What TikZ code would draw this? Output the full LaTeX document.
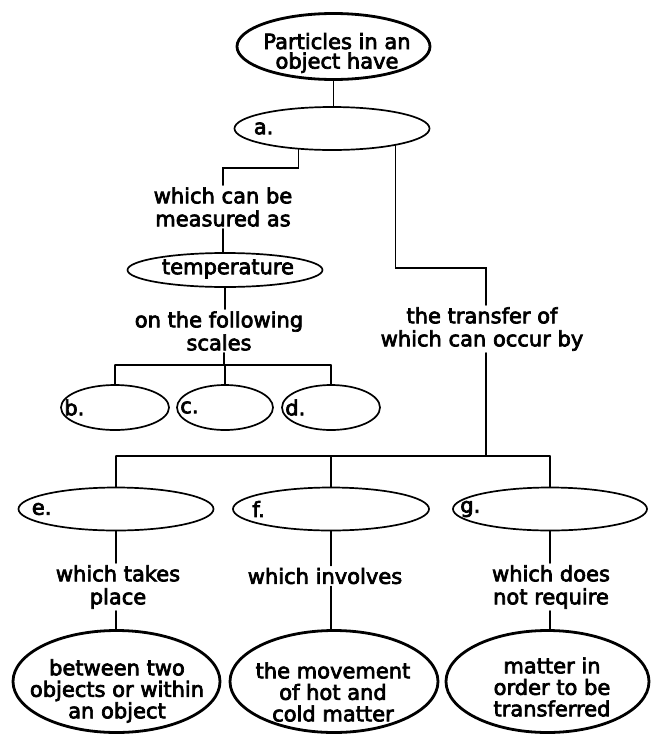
\documentclass[tikz,border=0pt]{standalone}
\usepackage{fontspec}
\setmainfont{DejaVu Sans}
\usetikzlibrary{shapes.geometric}
\newcommand\heavytext{\special{pdf:literal direct 2 Tr 0.7 w}}
\begin{document}
\begin{tikzpicture}[x=1pt,y=-1pt,
  every node/.style={font=\heavytext\fontsize{21}{23}\selectfont},
  conn/.style={line width=1.2pt, line cap=round},
  oval/.style={ellipse, draw, line width=1.7pt, inner sep=0pt},
  boldoval/.style={ellipse, draw, line width=2.8pt, inner sep=0pt},
  txt/.style={align=center, inner sep=2pt},
  toptxt/.style={align=center, inner sep=0pt, font=\heavytext\fontsize{21}{19.5}\selectfont},
  bottxt/.style={align=center, inner sep=0pt, font=\heavytext\fontsize{21}{21.5}\selectfont},
  lbl/.style={anchor=west, inner sep=0pt}]
\useasboundingbox (0,0) rectangle (651,734);

% top
\node[boldoval, minimum width=193pt, minimum height=66pt] (top) at (333.5,46.5) {};
\node[toptxt] (topt) at (337,53) {Particles in an\\object have};

% a
\node[oval, minimum width=195pt, minimum height=43pt] (a) at (332,128.5) {};
\node[lbl] (al) at ([xshift=20pt]a.west) {a.};

% left branch
\node[txt] (m1) at (223,207) {which can be\\measured as};
\node[oval, minimum width=195pt, minimum height=34pt] (tmp) at (225,270) {};
\node[inner sep=0pt] (tmpt) at (228,269) {temperature};
\node[txt] (ofs) at (219,331) {on the following\\scales};

\node[oval, minimum width=108pt, minimum height=45pt] (b) at (115,407.5) {};
\node[oval, minimum width=96pt, minimum height=45pt] (c) at (225,407.5) {};
\node[oval, minimum width=98pt, minimum height=45pt] (d) at (331,407.5) {};
\node[lbl] (bl) at ([xshift=4pt]b.west) {b.};
\node[lbl] (cl) at ([xshift=4pt]c.west) {c.};
\node[lbl] (dl) at ([xshift=4pt]d.west) {d.};

% right branch
\node[txt] (tr) at (482,329) {the transfer of\\which can occur by};

\node[oval, minimum width=195pt, minimum height=43pt] (e) at (116,509) {};
\node[oval, minimum width=196pt, minimum height=43pt] (f) at (331,509) {};
\node[oval, minimum width=194pt, minimum height=43pt] (g) at (550,509) {};
\node[lbl] (el) at ([xshift=14pt]e.west) {e.};
\node[lbl] (fl) at ([xshift=20pt]f.west) {f.};
\node[lbl] (gl) at ([xshift=8pt]g.west) {g.};

\node[txt] (wt) at (118,587) {which takes\\place};
\node[txt] (wi) at (325,576) {which involves};
\node[txt] (wd) at (551,587) {which does\\not require};

\node[boldoval, minimum width=207pt, minimum height=102pt] (e2) at (116.5,681.5) {};
\node[boldoval, minimum width=208pt, minimum height=102pt] (f2) at (334,681.5) {};
\node[boldoval, minimum width=203pt, minimum height=102pt] (g2) at (547.5,681.5) {};
\node[bottxt] (e2t) at (117,691) {between two\\objects or within\\an object};
\node[bottxt] (f2t) at (333,692) {the movement\\of hot and\\cold matter};
\node[bottxt] (g2t) at (552,687) {matter in\\order to be\\transferred};

% coordinates
\coordinate (k1) at (223,168);
\coordinate (k2) at (224,365);
\coordinate (k3) at (486,268);
\coordinate (k4) at (486,456);

% connectors
\draw[conn] (top.south) -- (top.south |- a.north);
\draw[conn] (a.212) |- (k1) -- (m1.north);
\draw[conn] (m1.south) -- (m1.south |- tmp.north);
\draw[conn] (tmp.south) -- (tmp.south |- ofs.north);
\draw[conn] (ofs.south -| k2) -- (k2);
\draw[conn] (b.north |- k2) -- (d.north |- k2);
\draw[conn] (b.north |- k2) -- (b.north);
\draw[conn] (c.north |- k2) -- (c.north);
\draw[conn] (d.north |- k2) -- (d.north);

\draw[conn] (a.345) |- (k3) -- (k3 |- tr.north);
\draw[conn] (k3 |- tr.south) -- (k4);
\draw[conn] (e.north |- k4) -- (g.north |- k4);
\draw[conn] (e.north |- k4) -- (e.north);
\draw[conn] (f.north |- k4) -- (f.north);
\draw[conn] (g.north |- k4) -- (g.north);

\draw[conn] (e.south) -- (e.south |- wt.north);
\draw[conn] (e.south |- wt.south) -- (e.south |- e2.north);
\draw[conn] (f.south) -- (f.south |- wi.north);
\draw[conn] (f.south |- wi.south) -- (f.south |- f2.north);
\draw[conn] (g.south) -- (g.south |- wd.north);
\draw[conn] (g.south |- wd.south) -- (g.south |- g2.north);
\end{tikzpicture}
\end{document}
